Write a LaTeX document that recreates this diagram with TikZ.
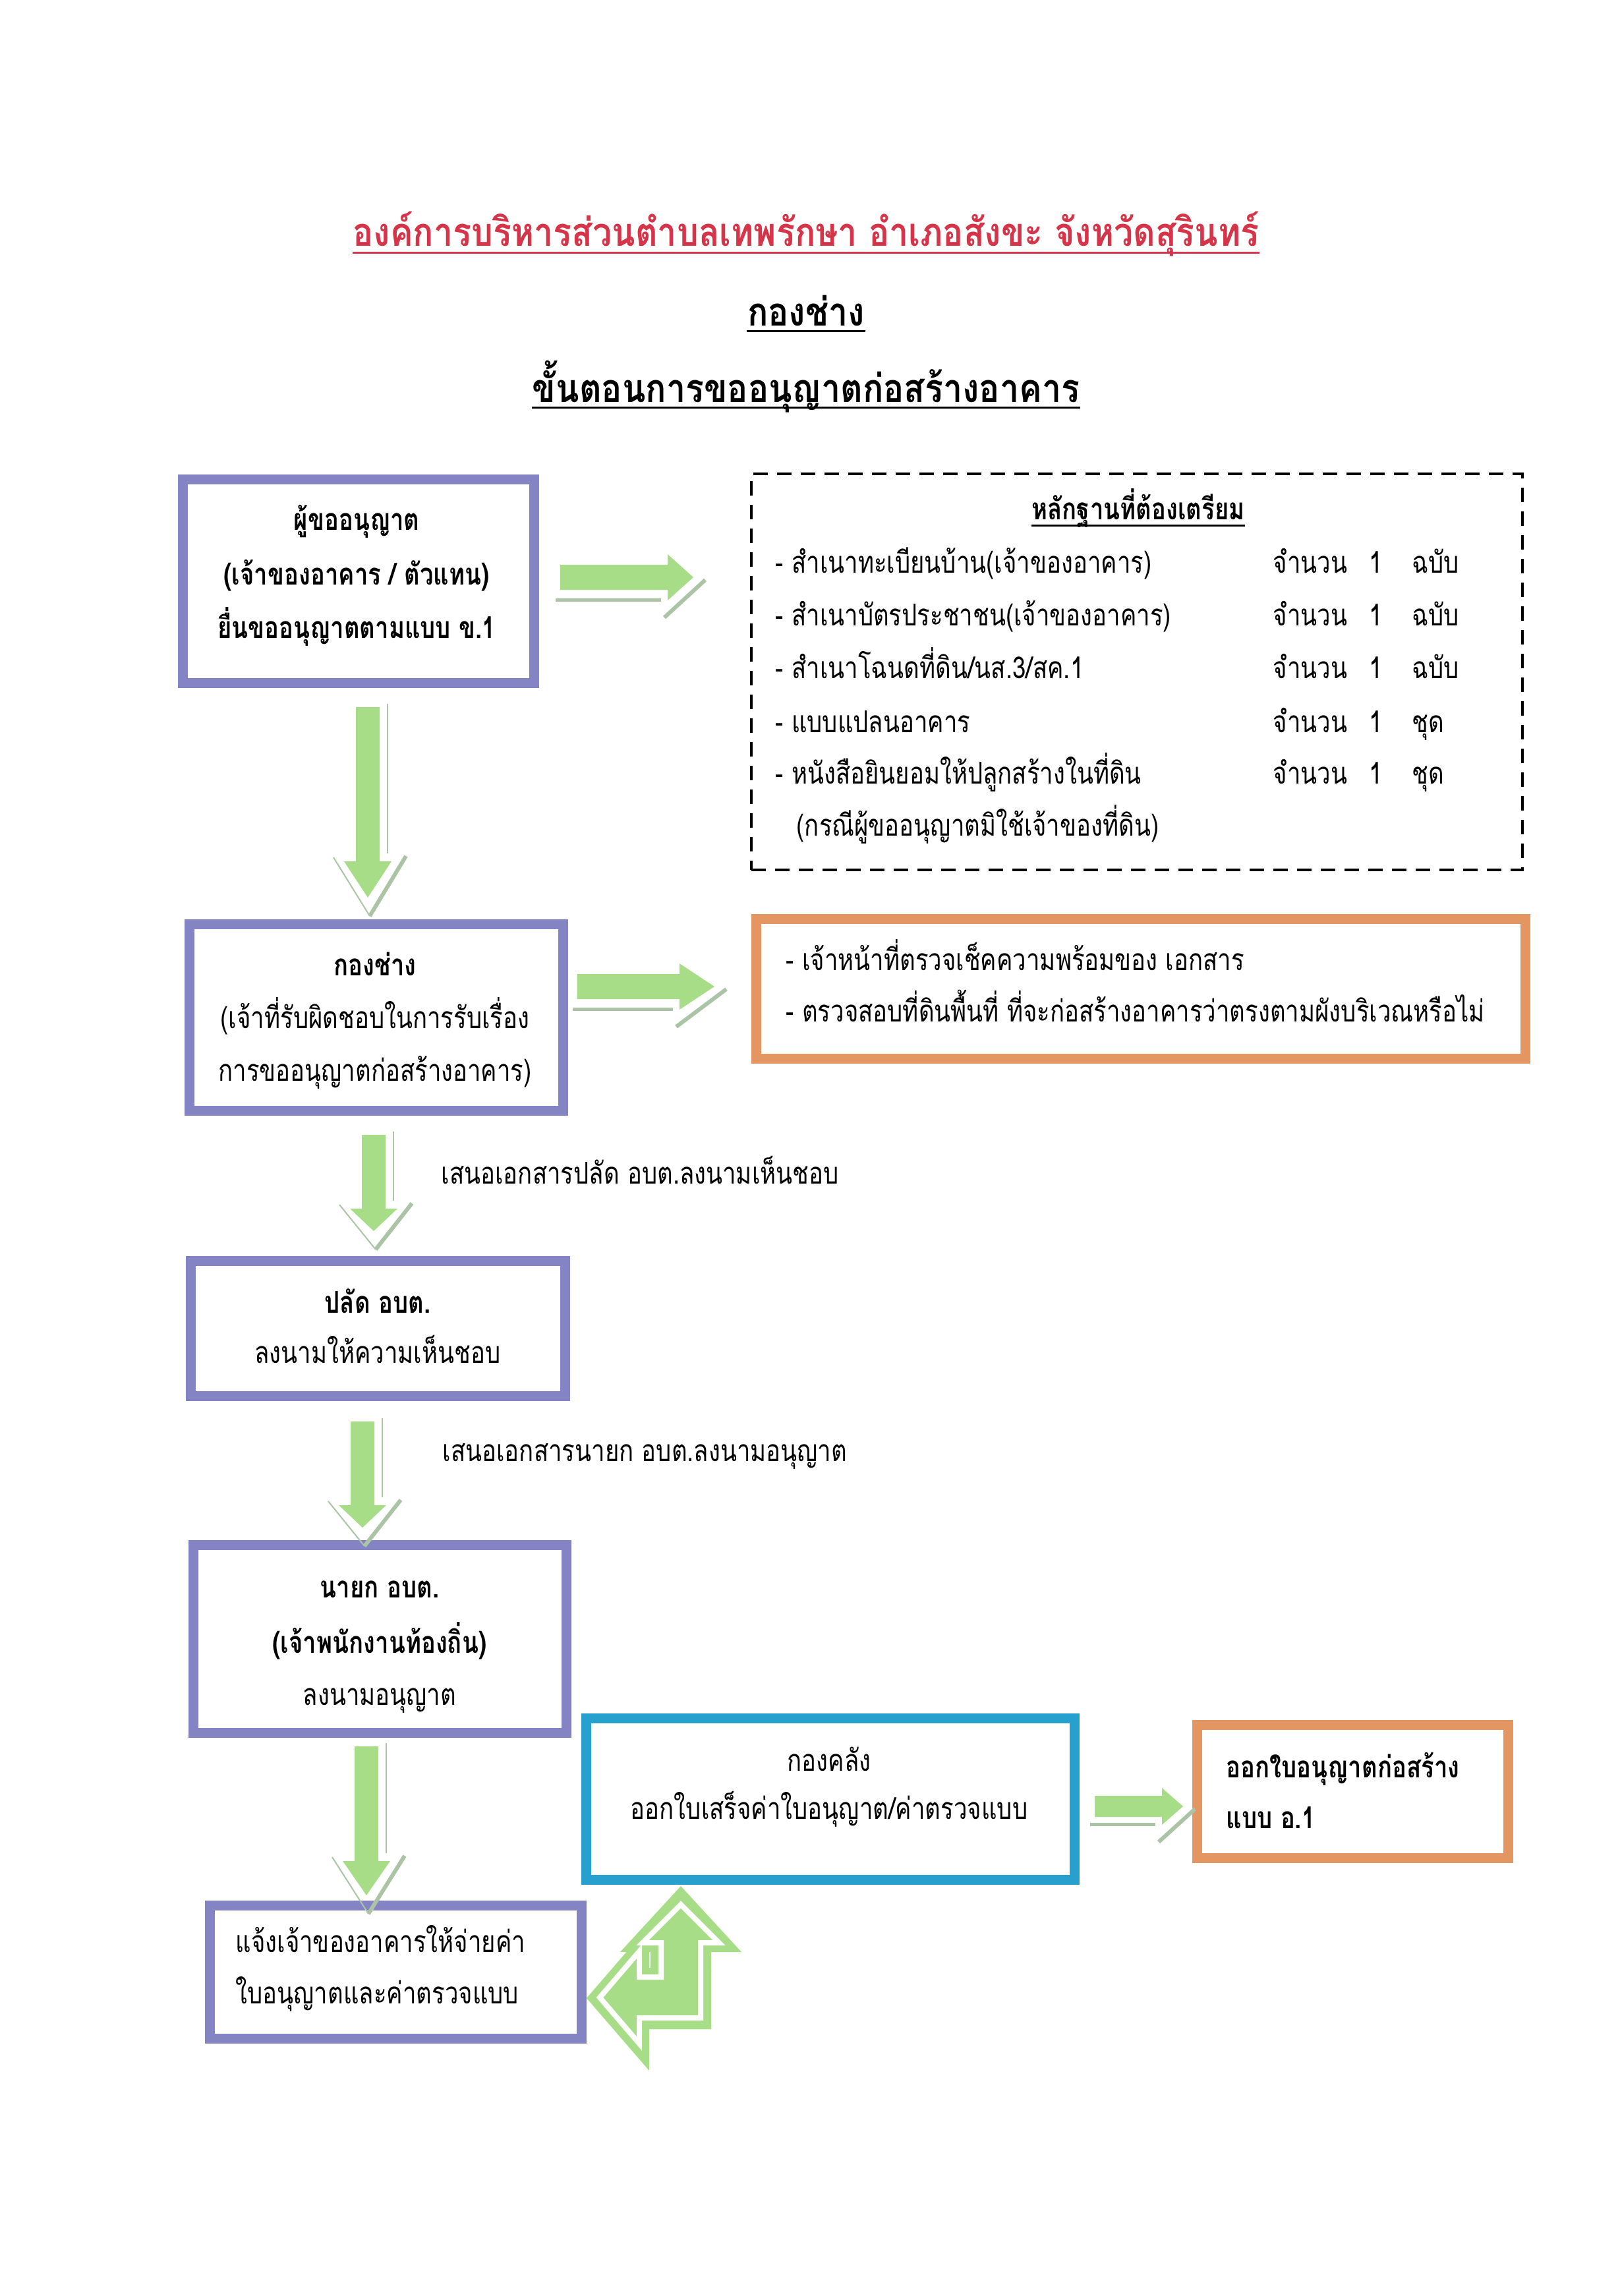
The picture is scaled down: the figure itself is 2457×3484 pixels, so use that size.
\documentclass[tikz,border=0pt]{standalone}
\usepackage{fontspec}
\newfontfamily\thaifont[Script=Thai, FakeStretch=0.8]{Loma}
\newfontfamily\thaititle[Script=Thai, FakeStretch=0.87]{Loma}
\definecolor{pcol}{RGB}{132,132,196}
\definecolor{ocol}{RGB}{228,150,98}
\definecolor{bcol}{RGB}{40,160,205}
\definecolor{gcol}{RGB}{168,221,136}
\definecolor{shcol}{RGB}{172,196,166}
\definecolor{rcol}{RGB}{214,52,72}
\tikzset{
  txt/.style={font=\thaifont\fontsize{13}{15}\selectfont, inner sep=0pt},
  btxt/.style={font=\thaifont\bfseries\fontsize{13}{15}\selectfont, inner sep=0pt},
  dtxt/.style={font=\thaifont\fontsize{13}{15}\selectfont, inner sep=0pt},
  ttl/.style={font=\thaititle\bfseries\fontsize{17}{20}\selectfont, inner sep=0pt},
  frame/.style={draw=#1, line width=1.2mm, inner sep=0pt, fill=white},
  innerline/.style={draw=#1, line width=0.4mm},
  garrow/.style={fill=gcol},
  gshadow/.style={draw=shcol},
}
\newcommand\gdarrow[4]{%
  \fill[garrow] (#1-18,#2) -- (#1+18,#2) -- (#1+18,#3) -- (#1+36,#3) -- (#1,#4) -- (#1-36,#3) -- (#1-18,#3) -- cycle;
  \draw[gshadow, line width=0.25mm] (#1+30,#2-5) -- (#1+30,#3-12);
  \draw[gshadow, line width=0.2mm] (#1-52,#3-6) -- (#1+3,#4+28);
  \draw[gshadow, line width=0.6mm] (#1+58,#3-8) -- (#1+3,#4+28);
}
\newcommand\grarrow[6]{%
  \fill[garrow] (#1,#4-#5) -- (#2,#4-#5) -- (#2,#4-#6) -- (#3,#4) -- (#2,#4+#6) -- (#2,#4+#5) -- (#1,#4+#5) -- cycle;
  \draw[gshadow, line width=0.5mm] (#1-7,#4+#6-1) -- (#2-10,#4+#6-1);
  \draw[gshadow, line width=0.6mm] (#2-5,#4+#6+26) -- (#3+18,#4+4);
}
\begin{document}
\begin{tikzpicture}[x=0.1mm,y=-0.1mm]
\useasboundingbox[fill=white] (0,0) rectangle (2457,3484);

% titles
\node[ttl, text=rcol, anchor=mid] (t1) at (1223,366) {องค์การบริหารส่วนตำบลเทพรักษา อำเภอสังขะ จังหวัดสุรินทร์};
\draw[rcol, line width=0.35mm] ([yshift=-1.0mm]t1.base west) -- ([yshift=-1.0mm]t1.base east);
\node[ttl, anchor=mid] (t2) at (1223,487) {กองช่าง};
\draw[line width=0.35mm] ([yshift=-0.8mm]t2.base west) -- ([yshift=-0.8mm]t2.base east);
\node[ttl, anchor=mid] (t3) at (1223,603) {ขั้นตอนการขออนุญาตก่อสร้างอาคาร};
\draw[line width=0.35mm] ([yshift=-0.8mm]t3.base west) -- ([yshift=-0.8mm]t3.base east);

% box 1
\node[frame=pcol, minimum width=53.6mm, minimum height=31.2mm] (b1) at (544,882) {};
\draw[innerline=pcol] ([shift={(13,13)}]b1.north west) rectangle ([shift={(-13,-13)}]b1.south east);
\node[btxt, anchor=mid] (b1a) at (541,797) {ผู้ขออนุญาต};
\node[btxt, anchor=mid] (b1b) at (541,880) {(เจ้าของอาคาร / ตัวแทน)};
\node[btxt, anchor=mid] (b1c) at (541,961) {ยื่นขออนุญาตตามแบบ ข.1};

% dashed box
\node[draw, line width=0.4mm, dash pattern=on 2.2mm off 1.4mm, minimum width=117mm, minimum height=60.1mm, inner sep=0pt] (d) at (1725,1019.5) {};
\node[btxt, anchor=mid] (dh) at (1727,781) {หลักฐานที่ต้องเตรียม};
\draw[line width=0.3mm] ([yshift=-0.9mm]dh.base west) -- ([yshift=-0.9mm]dh.base east);
\node[dtxt, anchor=mid west] (d1) at (1176,862) {- สำเนาทะเบียนบ้าน(เจ้าของอาคาร)};
\node[dtxt, anchor=mid west] (d2) at (1176,942) {- สำเนาบัตรประชาชน(เจ้าของอาคาร)};
\node[dtxt, anchor=mid west] (d3) at (1176,1022) {- สำเนาโฉนดที่ดิน/นส.3/สค.1};
\node[dtxt, anchor=mid west] (d4) at (1176,1104) {- แบบแปลนอาคาร};
\node[dtxt, anchor=mid west] (d5) at (1176,1182) {- หนังสือยินยอมให้ปลูกสร้างในที่ดิน};
\node[dtxt, anchor=mid west] (d6) at (1208,1261) {(กรณีผู้ขออนุญาตมิใช้เจ้าของที่ดิน)};
\foreach \yy/\uu [count=\i] in {862/ฉบับ,942/ฉบับ,1022/ฉบับ,1104/ชุด,1182/ชุด}{
  \node[dtxt, anchor=mid west] (dq\i) at (1931,\yy) {จำนวน};
  \node[dtxt, anchor=mid] (dn\i) at (2088,\yy) {1};
  \node[dtxt, anchor=mid west] (du\i) at (2142,\yy) {\uu};
}

% box 2
\node[frame=pcol, minimum width=57.0mm, minimum height=28.6mm] (b2) at (571,1544) {};
\draw[innerline=pcol] ([shift={(13,13)}]b2.north west) rectangle ([shift={(-13,-13)}]b2.south east);
\node[btxt, anchor=mid] (b2a) at (569,1473) {กองช่าง};
\node[txt, anchor=mid] (b2b) at (569,1553) {(เจ้าที่รับผิดชอบในการรับเรื่อง};
\node[txt, anchor=mid] (b2c) at (569,1633) {การขออนุญาตก่อสร้างอาคาร)};

% orange box 1
\node[frame=ocol, minimum width=117.0mm, minimum height=21.5mm] (o1) at (1731,1500.5) {};
\draw[innerline=ocol] ([shift={(13,13)}]o1.north west) rectangle ([shift={(-13,-13)}]o1.south east);
\node[txt, anchor=mid west] (o1a) at (1192,1465) {- เจ้าหน้าที่ตรวจเช็คความพร้อมของ เอกสาร};
\node[txt, anchor=mid west] (o1b) at (1192,1543) {- ตรวจสอบที่ดินพื้นที่ ที่จะก่อสร้างอาคารว่าตรงตามผังบริเวณหรือไม่};

% box 3
\node[txt, anchor=mid west] (l1) at (669,1789) {เสนอเอกสารปลัด อบต.ลงนามเห็นชอบ};
\node[frame=pcol, minimum width=57.1mm, minimum height=20.8mm] (b3) at (573.5,2016) {};
\draw[innerline=pcol] ([shift={(13,13)}]b3.north west) rectangle ([shift={(-13,-13)}]b3.south east);
\node[btxt, anchor=mid] (b3a) at (573,1985) {ปลัด อบต.};
\node[txt, anchor=mid] (b3b) at (573,2061) {ลงนามให้ความเห็นชอบ};

% box 4
\node[txt, anchor=mid west] (l2) at (671,2210) {เสนอเอกสารนายก อบต.ลงนามอนุญาต};
\node[frame=pcol, minimum width=56.9mm, minimum height=28.8mm] (b4) at (576.5,2487) {};
\draw[innerline=pcol] ([shift={(13,13)}]b4.north west) rectangle ([shift={(-13,-13)}]b4.south east);
\node[btxt, anchor=mid] (b4a) at (576,2417) {นายก อบต.};
\node[btxt, anchor=mid] (b4b) at (576,2501) {(เจ้าพนักงานท้องถิ่น)};
\node[txt, anchor=mid] (b4c) at (576,2580) {ลงนามอนุญาต};

% box 5
\node[frame=pcol, minimum width=56.7mm, minimum height=20.5mm] (b5) at (600.5,2992.5) {};
\draw[innerline=pcol] ([shift={(13,13)}]b5.north west) rectangle ([shift={(-13,-13)}]b5.south east);
\node[txt, anchor=mid west] (b5a) at (357,2955) {แจ้งเจ้าของอาคารให้จ่ายค่า};
\node[txt, anchor=mid west] (b5b) at (357,3033) {ใบอนุญาตและค่าตรวจแบบ};

% box 6 (blue)
\node[frame=bcol, minimum width=74.4mm, minimum height=24.8mm] (b6) at (1260,2730) {};
\draw[innerline=bcol] ([shift={(13,13)}]b6.north west) rectangle ([shift={(-13,-13)}]b6.south east);
\node[txt, anchor=mid] (b6a) at (1258,2680) {กองคลัง};
\node[txt, anchor=mid] (b6b) at (1258,2753) {ออกใบเสร็จค่าใบอนุญาต/ค่าตรวจแบบ};

% orange box 2
\node[frame=ocol, minimum width=47.5mm, minimum height=20.5mm] (o2) at (2052.5,2718.5) {};
\draw[innerline=ocol] ([shift={(13,13)}]o2.north west) rectangle ([shift={(-13,-13)}]o2.south east);
\node[btxt, anchor=mid west] (o2a) at (1860,2690) {ออกใบอนุญาตก่อสร้าง};
\node[btxt, anchor=mid west] (o2b) at (1860,2767) {แบบ อ.1};

% green arrows
\gdarrow{558}{1073}{1307}{1362}
\gdarrow{567}{1722}{1834}{1868}
\gdarrow{550}{2157}{2284}{2318}
\gdarrow{556}{2650}{2824}{2876}
\grarrow{850}{1013}{1052}{876}{19}{35}
\grarrow{876}{1031}{1084}{1497}{19}{35}
\grarrow{1661}{1763}{1795}{2741}{16}{28}

% bent arrow (left-up)
\fill[garrow] (1033,2862) -- (1125,2962) -- (1079,2962) -- (1079,3079) -- (987,3079) -- (987,2962) -- (941,2962) -- cycle;
\fill[garrow] (890,3032) -- (985,2922) -- (985,2986) -- (1079,2986) -- (1079,3079) -- (985,3079) -- (985,3142) -- cycle;
\filldraw[garrow, draw=white, line width=0.8mm, line join=miter] (1033,2890) -- (1091,2948) -- (1063,2948) -- (1063,3062) -- (970,3062) -- (970,3101) -- (910,3031) -- (970,2961) -- (970,3000) -- (1003,3000) -- (1003,2948) -- (975,2948) -- cycle;
\end{tikzpicture}
\end{document}
